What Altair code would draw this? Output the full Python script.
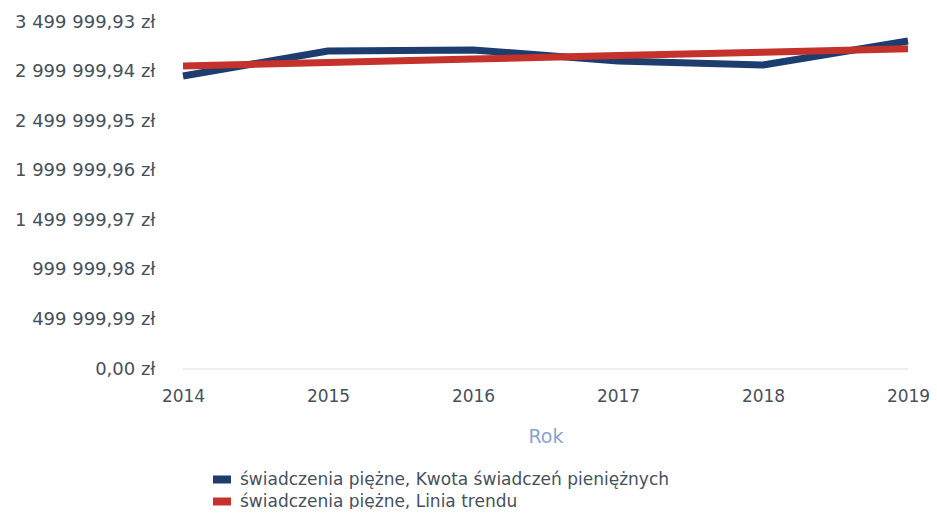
import altair as alt
import pandas as pd

years = [2014, 2015, 2016, 2017, 2018, 2019]
amount = [2955000, 3208000, 3218000, 3107000, 3066000, 3308000]
trend = [3056000, 3091000, 3126000, 3161000, 3196000, 3231000]
series_names = [
    "świadczenia piężne, Kwota świadczeń pieniężnych",
    "świadczenia piężne, Linia trendu",
]
y_ticks = [0, 499999.99, 999999.98, 1499999.97, 1999999.96, 2499999.95, 2999999.94, 3499999.93]
colors = ["#1d3d6e", "#c5322b"]

rows = []
for i, yr in enumerate(years):
    rows.append({"Rok": yr, "value": amount[i], "series": series_names[0], "ord": 0})
for i, yr in enumerate(years):
    rows.append({"Rok": yr, "value": trend[i], "series": series_names[1], "ord": 1})
df = pd.DataFrame(rows)

font = "DejaVu Sans"
label_color = "#46515c"

W, H = 725, 347

base = alt.Chart(df)

baseline = base.mark_rule(color="#eeeeee", strokeWidth=2).encode(
    x=alt.value(0), x2=alt.value(W), y=alt.value(H)
)

lines = base.mark_line(strokeWidth=7, strokeCap="butt", strokeJoin="round").encode(
    x=alt.X(
        "Rok:Q",
        scale=alt.Scale(domain=[2014, 2019], nice=False, zero=False),
        axis=alt.Axis(
            values=years,
            format="d",
            title="Rok",
            titleColor="#8aa3cc",
            titleFont=font,
            titleFontSize=19,
            titleFontWeight="normal",
            titlePadding=23,
            labelFont=font,
            labelFontSize=17,
            labelColor=label_color,
            labelPadding=19,
            domain=False,
            ticks=False,
            grid=False,
            labelFlush=False,
        ),
    ),
    y=alt.Y(
        "value:Q",
        scale=alt.Scale(domain=[0, 3499999.93], nice=False),
        axis=alt.Axis(
            values=y_ticks,
            title=None,
            labelExpr="replace(replace(format(datum.value, ',.2f'), regexp(',', 'g'), ' '), '.', ',') + ' zł'",
            labelFont=font,
            labelFontSize=18,
            labelColor=label_color,
            labelPadding=28,
            domain=False,
            ticks=False,
            grid=False,
        ),
    ),
    color=alt.Color(
        "series:N",
        scale=alt.Scale(domain=series_names, range=colors),
        legend=alt.Legend(
            title=None,
            orient="none",
            legendX=26,
            legendY=449,
            direction="vertical",
            symbolType="stroke",
            symbolSize=324,
            symbolStrokeWidth=8,
            labelFont=font,
            labelFontSize=17,
            labelColor=label_color,
            labelOffset=5,
            labelLimit=0,
            clipHeight=17,
            rowPadding=4,
            padding=0,
        ),
    ),
    order="ord:Q",
    detail="series:N",
)

chart = (
    alt.layer(baseline, lines)
    .properties(
        width=W,
        height=H,
        autosize=alt.AutoSizeParams(type="none"),
        padding={"left": 175, "top": 14, "right": 21, "bottom": 140},
    )
    .configure(background="white")
    .configure_view(stroke="transparent", strokeWidth=0)
)

chart.save("out.html", embed_options={"renderer": "svg", "actions": False})
